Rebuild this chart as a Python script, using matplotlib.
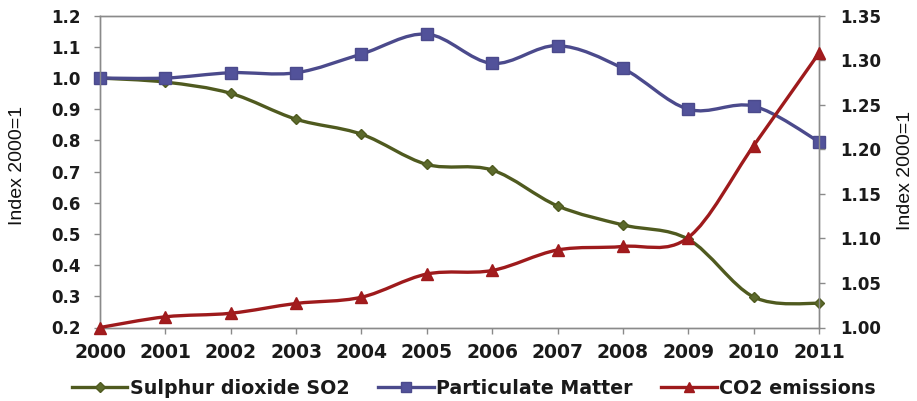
import matplotlib
matplotlib.use("Agg")
import matplotlib.pyplot as plt
from matplotlib.path import Path
from matplotlib.patches import PathPatch
from matplotlib.lines import Line2D
import numpy as np

# ---- data -------------------------------------------------------------
years = [2000, 2001, 2002, 2003, 2004, 2005, 2006, 2007, 2008, 2009, 2010, 2011]
so2 = [1.000, 0.987, 0.951, 0.868, 0.820, 0.723, 0.705, 0.590, 0.529, 0.483, 0.298, 0.277]
pm = [1.000, 1.000, 1.017, 1.017, 1.077, 1.141, 1.047, 1.104, 1.031, 0.900, 0.910, 0.796]
co2 = [1.000, 1.012, 1.016, 1.027, 1.034, 1.060, 1.064, 1.087, 1.091, 1.101, 1.204, 1.308]

left_ticks = [0.2, 0.3, 0.4, 0.5, 0.6, 0.7, 0.8, 0.9, 1.0, 1.1, 1.2]
right_ticks = [1.00, 1.05, 1.10, 1.15, 1.20, 1.25, 1.30, 1.35]
axis_label = "Index 2000=1"
names = ["Sulphur dioxide SO2", "Particulate Matter", "CO2 emissions"]

# ---- styles -----------------------------------------------------------
c_so2, c_so2_m = "#4f5a1f", "#5c6a2c"
c_pm, c_pm_m = "#4b4a8c", "#52529a"
c_co2, c_co2_m = "#9e1a1c", "#a31c1e"
grey = "#8a8a8a"
LW = 2.4


def smooth_path(xs, ys, k=1.0 / 6.0):
    """Cubic Bezier path through the points (Catmull-Rom style smoothing)."""
    p = np.column_stack([xs, ys]).astype(float)
    n = len(p)
    verts = [p[0]]
    codes = [Path.MOVETO]
    for i in range(n - 1):
        p0 = p[i - 1] if i > 0 else p[i]
        p1, p2 = p[i], p[i + 1]
        p3 = p[i + 2] if i + 2 < n else p[i + 1]
        c1 = p1 + (p2 - p0) * k
        c2 = p2 - (p3 - p1) * k
        verts += [c1, c2, p2]
        codes += [Path.CURVE4] * 3
    return Path(verts, codes)


fig = plt.figure(figsize=(9.17, 4.01), dpi=100)
ax = fig.add_axes([100 / 917, 1 - 327.5 / 401, 719 / 917, 311.8 / 401])
ax2 = ax.twinx()

ax.set_xlim(2000, 2011)
ax.set_ylim(0.2, 1.2)
ax2.set_ylim(1.00, 1.35)

# smoothed lines
ax.add_patch(PathPatch(smooth_path(years, so2), fill=False, ec=c_so2, lw=LW,
                       capstyle="round", joinstyle="round", clip_on=False, zorder=3))
ax.add_patch(PathPatch(smooth_path(years, pm), fill=False, ec=c_pm, lw=LW,
                       capstyle="round", joinstyle="round", clip_on=False, zorder=3))
ax2.add_patch(PathPatch(smooth_path(years, co2), fill=False, ec=c_co2, lw=LW,
                        capstyle="round", joinstyle="round", clip_on=False, zorder=3))

# markers
ax.plot(years, so2, ls="none", marker="D", ms=5.5, mfc=c_so2_m, mec=c_so2,
        clip_on=False, zorder=4)
ax.plot(years, pm, ls="none", marker="s", ms=8.5, mfc=c_pm_m, mec=c_pm,
        clip_on=False, zorder=4)
ax2.plot(years, co2, ls="none", marker="^", ms=8.5, mfc=c_co2_m, mec=c_co2,
         clip_on=False, zorder=4)

# axes cosmetics
for a in (ax, ax2):
    for s in a.spines.values():
        s.set_color(grey)
        s.set_linewidth(1.0)

ax.set_xticks(years)
ax.set_xticklabels([str(y) for y in years])
ax.set_yticks(left_ticks)
ax.set_yticklabels([f"{v:.1f}" for v in left_ticks])
ax2.set_yticks(right_ticks)
ax2.set_yticklabels([f"{v:.2f}" for v in right_ticks])

ax.tick_params(axis="x", direction="out", length=4, width=1, color=grey, pad=7,
               labelsize=13.5)
ax.tick_params(axis="y", direction="out", length=4, width=1, color=grey, pad=10,
               labelsize=12)
ax2.tick_params(axis="y", direction="out", length=4, width=1, color=grey, pad=11,
                labelsize=12)
for lab in ax.get_xticklabels() + ax.get_yticklabels() + ax2.get_yticklabels():
    lab.set_fontweight("bold")
    lab.set_color("#1a1a1a")

label_font = dict(family=["Liberation Sans Narrow", "Liberation Sans", "DejaVu Sans"],
                  fontsize=14, color="#111111", rotation=90, ha="center", va="center")
fig.text(18 / 917, 1 - 165 / 401, axis_label, **label_font)
fig.text(906 / 917, 1 - 170 / 401, axis_label, **label_font)

# legend
handles = [
    Line2D([], [], color=c_so2, lw=LW, marker="D", ms=5, mfc=c_so2_m, mec=c_so2),
    Line2D([], [], color=c_pm, lw=LW, marker="s", ms=7.5, mfc=c_pm_m, mec=c_pm),
    Line2D([], [], color=c_co2, lw=LW, marker="^", ms=7.5, mfc=c_co2_m, mec=c_co2),
]
fig.legend(handles, names, loc="center", ncol=3, frameon=False,
           bbox_to_anchor=(0.517, 1 - 388 / 401),
           prop=dict(weight="bold", size=13.7), handlelength=2.9,
           handletextpad=0.15, columnspacing=1.5, labelcolor="#1a1a1a")

fig.savefig("out.png", dpi=100, facecolor="white")
